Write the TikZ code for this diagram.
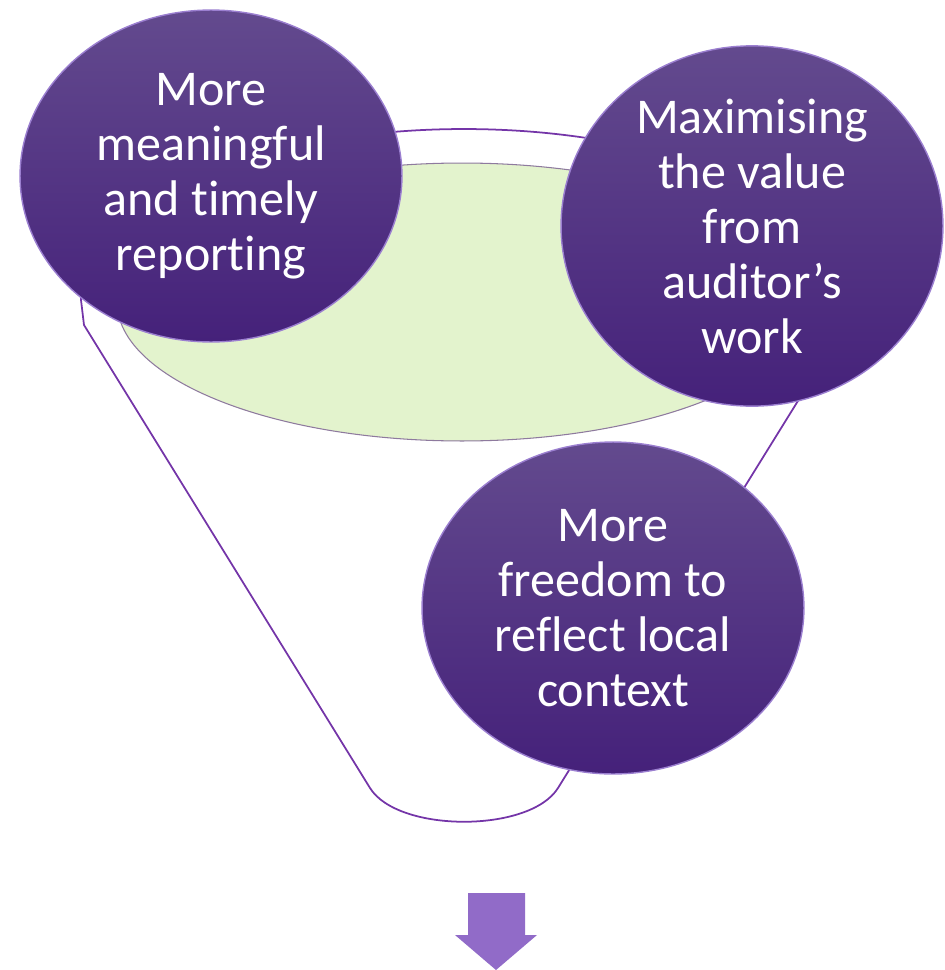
\documentclass[tikz,border=0pt]{standalone}
\usepackage{fontspec}
\setmainfont[Ligatures=NoCommon]{Carlito}
\usetikzlibrary{shapes.geometric}
\definecolor{ctop}{HTML}{634A8E}
\definecolor{cbot}{HTML}{45217A}
\definecolor{crim}{HTML}{9B7FD0}
\definecolor{cfun}{HTML}{7435A8}
\definecolor{cgreen}{HTML}{E3F3CD}
\definecolor{cgreenline}{HTML}{8E7A9E}
\definecolor{carrow}{HTML}{916BC8}
\tikzset{
  bubble/.style={ellipse,minimum width=7.64cm,minimum height=6.64cm,inner sep=0pt,
    top color=ctop,bottom color=cbot,draw=crim,line width=0.8pt,
    text=white,align=center,font=\fontsize{28.5}{31.3}\selectfont},
  funnel/.style={draw=cfun,line width=1pt,line join=round}
}
\begin{document}
\begin{tikzpicture}[x=0.02cm,y=-0.02cm]
      \useasboundingbox (0,0) rectangle (945,970);
      \draw[funnel] (81,300) arc[start angle=180,end angle=0,x radius=7.66cm,y radius=3.42cm]
        -- (845,325) -- (558,788) .. controls (530,833) and (398,833) .. (370,788)
        -- (84,325) -- cycle;
      \draw[fill=cgreen,draw=cgreenline,line width=0.6pt] (462,302) ellipse [x radius=6.9cm,y radius=2.78cm];
      \node[bubble] (report) at (211,176) {More\\meaningful\\and timely\\reporting};
      \node[bubble] (value) at (752,226) {Maximising\\the value\\from\\auditor’s\\work};
      \node[bubble] (local) at (613,608) {More\\freedom to\\reflect local\\context};
      \fill[carrow] (468,893) -- (525,893) -- (525,935) -- (537,935) -- (496,970)
        -- (455,935) -- (468,935) -- cycle;
    \end{tikzpicture}
\end{document}
